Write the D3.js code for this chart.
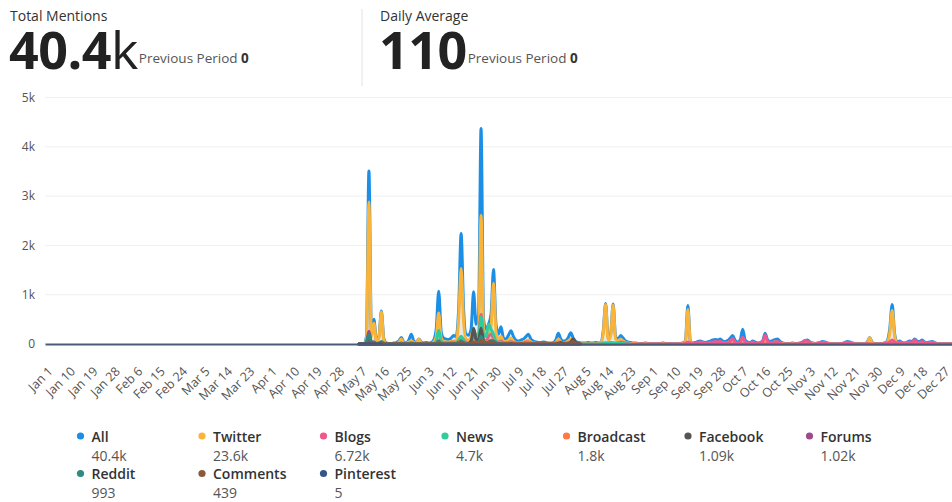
<!DOCTYPE html>
<html>
<head>
<meta charset="utf-8">
<script src="https://cdn.jsdelivr.net/npm/d3@7/dist/d3.min.js"></script>
<style>
	body { margin: 0; background: #fff; font-family: 'Open Sans', 'Noto Sans', sans-serif; }
	svg text { font-family: 'Open Sans', 'Noto Sans', sans-serif; }
</style>
</head>
<body>
<div id="chart"></div>
<script>
// values are daily counts, starting on windowStart
const windowStart = '2023-05-07';
const yearStart = '2023-01-01', yearEnd = '2023-12-31';

const allVals = [
	0, 0, 0, 150, 3510, 250, 500, 80, 150, 670,
	100, 20, 10, 10, 20, 30, 60, 130, 40, 20,
	80, 200, 60, 30, 100, 40, 20, 30, 20, 30,
	80, 300, 1070, 250, 120, 100, 90, 120, 170, 150,
	700, 2240, 700, 200, 180, 300, 1060, 400, 600, 4370,
	500, 300, 400, 600, 1510, 400, 200, 350, 120, 100,
	180, 270, 150, 80, 60, 80, 100, 150, 200, 100,
	60, 40, 30, 30, 40, 30, 20, 20, 30, 80,
	220, 100, 60, 70, 130, 230, 120, 50, 30, 20,
	20, 20, 30, 20, 20, 30, 20, 30, 250, 820,
	120, 200, 810, 150, 100, 170, 120, 60, 40, 30,
	20, 20, 10, 10, 10, 20, 10, 10, 10, 10,
	10, 10, 20, 10, 10, 10, 10, 10, 10, 10,
	20, 60, 780, 60, 20, 30, 50, 60, 40, 30,
	40, 60, 80, 90, 80, 100, 60, 50, 70, 120,
	170, 70, 40, 80, 300, 80, 40, 30, 60, 40,
	20, 30, 60, 220, 80, 50, 70, 90, 100, 50,
	20, 10, 10, 10, 20, 10, 10, 20, 40, 70,
	80, 40, 20, 10, 20, 30, 50, 40, 20, 10,
	10, 10, 10, 10, 10, 30, 50, 40, 20, 10,
	10, 10, 10, 10, 40, 130, 30, 10, 10, 10,
	10, 20, 60, 300, 800, 200, 40, 60, 30, 20,
	40, 60, 50, 100, 60, 50, 80, 40, 30, 40,
	50, 30, 10, 10, 10, 10, 10, 10, 10
];
const twitterVals = [
	0, 0, 0, 100, 2880, 150, 420, 50, 120, 650,
	60, 10, 0, 0, 10, 10, 30, 100, 20, 10,
	40, 60, 30, 10, 100, 20, 10, 10, 10, 10,
	40, 150, 630, 120, 50, 40, 40, 50, 60, 60,
	500, 1530, 450, 100, 80, 150, 300, 150, 250, 2610,
	300, 150, 200, 350, 1230, 250, 100, 150, 60, 40,
	80, 120, 60, 30, 20, 30, 40, 60, 80, 40,
	20, 10, 10, 10, 10, 10, 10, 10, 10, 30,
	100, 40, 20, 30, 60, 100, 40, 20, 10, 10,
	10, 10, 10, 10, 10, 10, 10, 10, 200, 800,
	80, 150, 790, 100, 60, 100, 60, 30, 20, 10,
	10, 10, 0, 0, 0, 10, 0, 0, 0, 0,
	0, 0, 10, 0, 0, 0, 0, 0, 0, 0,
	10, 40, 700, 40, 10, 10, 20, 20, 10, 10,
	10, 20, 30, 30, 30, 40, 20, 20, 30, 50,
	60, 30, 10, 30, 120, 30, 10, 10, 20, 10,
	10, 10, 20, 60, 30, 20, 30, 40, 40, 20,
	10, 0, 0, 0, 10, 0, 0, 10, 10, 20,
	20, 10, 10, 0, 10, 10, 20, 10, 10, 0,
	0, 0, 0, 0, 0, 10, 20, 10, 10, 0,
	0, 0, 0, 0, 30, 130, 20, 0, 0, 0,
	0, 10, 40, 220, 680, 150, 20, 20, 10, 10,
	20, 20, 20, 30, 20, 20, 30, 10, 10, 10,
	20, 10, 0, 0, 0, 0, 0, 0, 0
];
const blogsVals = [
	0, 0, 0, 20, 150, 40, 40, 10, 20, 40,
	20, 10, 0, 0, 10, 10, 10, 20, 10, 0,
	10, 30, 10, 10, 0, 10, 0, 10, 0, 10,
	10, 40, 80, 40, 20, 20, 20, 30, 40, 30,
	60, 150, 80, 40, 30, 60, 150, 100, 150, 600,
	100, 60, 150, 200, 120, 60, 40, 60, 30, 20,
	30, 50, 30, 20, 20, 20, 20, 40, 40, 20,
	20, 10, 0, 0, 10, 0, 0, 10, 10, 20,
	40, 30, 20, 20, 30, 40, 30, 10, 0, 0,
	0, 0, 0, 0, 0, 0, 0, 0, 20, 20,
	20, 30, 20, 20, 20, 40, 30, 20, 10, 0,
	0, 0, 0, 0, 0, 0, 0, 0, 0, 0,
	0, 0, 0, 0, 0, 0, 0, 0, 0, 0,
	0, 10, 40, 20, 0, 20, 30, 40, 30, 20,
	20, 30, 40, 50, 40, 50, 30, 30, 30, 60,
	110, 30, 20, 40, 130, 40, 20, 20, 40, 20,
	10, 20, 40, 180, 50, 30, 30, 40, 50, 20,
	0, 0, 0, 0, 0, 0, 0, 10, 30, 70,
	60, 30, 0, 0, 10, 20, 30, 30, 10, 0,
	0, 0, 0, 0, 10, 20, 30, 30, 10, 0,
	0, 0, 0, 0, 10, 0, 0, 0, 0, 0,
	0, 10, 20, 40, 80, 40, 20, 40, 20, 10,
	20, 40, 30, 80, 40, 30, 50, 30, 20, 30,
	30, 20, 0, 0, 0, 0, 0, 0, 0
];
const newsVals = [
	0, 0, 0, 30, 150, 30, 30, 10, 20, 30,
	10, 0, 0, 0, 0, 10, 10, 10, 10, 0,
	10, 30, 10, 0, 0, 0, 0, 0, 0, 0,
	10, 60, 280, 60, 30, 20, 20, 20, 30, 30,
	80, 150, 80, 30, 30, 60, 150, 200, 150, 550,
	200, 150, 400, 300, 200, 60, 30, 40, 20, 20,
	20, 40, 20, 10, 10, 10, 10, 20, 30, 10,
	10, 0, 0, 0, 0, 0, 0, 0, 0, 10,
	30, 20, 10, 10, 20, 30, 20, 10, 0, 0,
	0, 0, 0, 0, 0, 0, 0, 0, 10, 20,
	10, 10, 20, 10, 10, 10, 10, 0, 0, 0
];
const broadcastVals = [
	0, 0, 0, 10, 60, 20, 20, 10, 10, 20,
	10, 0, 0, 0, 0, 0, 10, 10, 0, 0,
	10, 20, 10, 0, 10, 0, 0, 0, 0, 0,
	10, 20, 60, 20, 10, 10, 10, 10, 20, 20,
	40, 80, 40, 20, 20, 30, 60, 60, 60, 150,
	60, 40, 60, 80, 80, 30, 20, 20, 10, 10,
	10, 20, 10, 10, 10, 10, 10, 10, 20, 10,
	10, 0, 0, 0, 0, 0, 0, 0, 10, 10,
	20, 10, 10, 10, 10, 20, 10, 0, 0, 0
];
const facebookVals = [
	0, 0, 0, 10, 80, 10, 10, 0, 10, 20,
	0, 0, 0, 0, 0, 0, 0, 0, 0, 0,
	0, 10, 0, 0, 0, 0, 0, 0, 0, 0,
	0, 10, 30, 10, 0, 0, 0, 10, 10, 10,
	20, 60, 20, 10, 10, 60, 320, 100, 80, 320,
	60, 20, 40, 60, 60, 20, 10, 10, 0, 0,
	0, 10, 0, 0, 0, 0, 0, 0, 0, 0,
	0, 0, 0, 0, 0, 0, 0, 0, 0, 0,
	10, 30, 10, 0, 10, 40, 100, 30, 10, 0
];
const forumsVals = [
	0, 0, 0, 30, 260, 40, 20, 10, 10, 30,
	10, 0, 0, 0, 0, 0, 0, 10, 0, 0,
	0, 10, 0, 0, 0, 0, 0, 0, 0, 0,
	0, 10, 40, 10, 0, 0, 0, 0, 10, 10,
	20, 50, 20, 0, 0, 10, 30, 20, 30, 100,
	20, 10, 20, 30, 40, 10, 0, 10, 0, 0
];
const redditVals = [
	0, 0, 0, 40, 200, 30, 40, 10, 10, 50,
	10, 0, 0, 0, 0, 0, 0, 10, 0, 0,
	0, 10, 0, 0, 0, 0, 0, 0, 0, 0,
	0, 10, 60, 10, 0, 0, 0, 0, 10, 10,
	20, 60, 20, 10, 0, 10, 40, 30, 30, 150,
	30, 10, 30, 40, 50, 10, 0, 10, 0, 0
];
const commentsVals = [
	0, 0, 0, 0, 40, 10, 10, 0, 0, 10,
	0, 0, 0, 0, 0, 0, 0, 0, 0, 0,
	0, 0, 0, 0, 0, 0, 0, 0, 0, 0,
	0, 0, 10, 0, 0, 0, 0, 0, 0, 0,
	0, 20, 10, 0, 0, 10, 30, 20, 10, 80,
	10, 0, 10, 20, 30, 0, 0, 0, 0, 0,
	0, 0, 0, 0, 0, 0, 0, 0, 0, 0,
	0, 0, 0, 0, 0, 0, 0, 0, 0, 0,
	0, 10, 0, 0, 0, 20, 50, 10, 0, 0
];
const pinterestVals = [0, 0, 0, 0, 5, 0, 0, 0, 0, 0];

const seriesNames = ['All', 'Twitter', 'Blogs', 'News', 'Broadcast', 'Facebook', 'Forums', 'Reddit', 'Comments', 'Pinterest'];
const seriesTotals = ['40.4k', '23.6k', '6.72k', '4.7k', '1.8k', '1.09k', '1.02k', '993', '439', '5'];
const seriesColors = ['#1b8fe6', '#fbb43a', '#f0588c', '#2fcc9c', '#ff7a45', '#555555', '#9c4c8c', '#2e8b80', '#8c5a3a', '#34558a'];
const seriesValues = [allVals, twitterVals, blogsVals, newsVals, broadcastVals, facebookVals, forumsVals, redditVals, commentsVals, pinterestVals];

const yTicks = [0, 1000, 2000, 3000, 4000, 5000];
const yTickLabels = ['0', '1k', '2k', '3k', '4k', '5k'];
const xTickLabels = ['Jan 1', 'Jan 10', 'Jan 19', 'Jan 28', 'Feb 6', 'Feb 15', 'Feb 24', 'Mar 5', 'Mar 14', 'Mar 23',
	'Apr 1', 'Apr 10', 'Apr 19', 'Apr 28', 'May 7', 'May 16', 'May 25', 'Jun 3', 'Jun 12', 'Jun 21', 'Jun 30',
	'Jul 9', 'Jul 18', 'Jul 27', 'Aug 5', 'Aug 14', 'Aug 23', 'Sep 1', 'Sep 10', 'Sep 19', 'Sep 28', 'Oct 7',
	'Oct 16', 'Oct 25', 'Nov 3', 'Nov 12', 'Nov 21', 'Nov 30', 'Dec 9', 'Dec 18', 'Dec 27'];

const kpis = [
	{ title: 'Total Mentions', value: '40.4', unit: 'k', prev: '0' },
	{ title: 'Daily Average', value: '110', unit: '', prev: '0' }
];

let width = 952,
	height = 502,
	plotLeft = 45,
	plotRight = 952,
	plotTop = 97.5,
	plotBottom = 344,
	parseDay = d3.timeParse('%Y-%m-%d'),
	parseTick = d3.timeParse('%b %d %Y'),
	start = parseDay(windowStart),
	svg = null,
	header = null,
	g = null,
	legend = null;

let xScale = d3.scaleTime()
	.domain([parseDay(yearStart), parseDay(yearEnd)])
	.range([plotLeft, plotRight]);
let yScale = d3.scaleLinear()
	.domain([0, 5000])
	.range([plotBottom, plotTop]);

svg = d3.select('#chart').append('svg')
	.attr('width', width)
	.attr('height', height);

// header KPIs
header = svg.append('g');
kpis.forEach(function (k, i) {
	let x0 = i === 0 ? 9 : 379;
	header.append('text')
		.attr('x', x0 + 1).attr('y', 21)
		.attr('font-size', 14).attr('fill', '#333')
		.text(k.title);
	let big = header.append('text')
		.attr('x', x0).attr('y', 69)
		.attr('font-size', 52).attr('fill', '#222')
		.attr('letter-spacing', '-0.5');
	big.append('tspan').attr('font-weight', 700).text(k.value);
	big.append('tspan').attr('font-weight', 400).text(k.unit);
	let w = big.node().getComputedTextLength();
	let small = header.append('text')
		.attr('x', x0 + w + 1).attr('y', 63)
		.attr('font-size', 13.5).attr('fill', '#555');
	small.append('tspan').text('Previous Period ');
	small.append('tspan').attr('font-weight', 700).attr('fill', '#333').text(k.prev);
});
header.append('line')
	.attr('x1', 362).attr('x2', 362)
	.attr('y1', 9).attr('y2', 86)
	.attr('stroke', '#e2e2e2');

g = svg.append('g');

// grid + y labels
g.append('g')
	.selectAll('line')
	.data(yTicks.slice(1))
	.enter().append('line')
	.attr('x1', plotLeft).attr('x2', plotRight)
	.attr('y1', d => yScale(d)).attr('y2', d => yScale(d))
	.attr('stroke', '#f0f0f0');

g.append('g')
	.attr('class', 'axisY')
	.attr('transform', 'translate(' + (plotLeft - 10) + ',0)')
	.call(d3.axisLeft(yScale).tickValues(yTicks).tickFormat((d, i) => yTickLabels[i]).tickSize(0).tickPadding(0))
	.call(ax => ax.select('.domain').remove())
	.selectAll('text')
	.attr('font-size', 12)
	.attr('fill', '#555');

// areas
let area = d3.area()
	.curve(d3.curveMonotoneX)
	.x(d => xScale(d.date))
	.y0(yScale(0))
	.y1(d => yScale(d.value));

seriesValues.forEach(function (vals, i) {
	let pts = vals.map((v, j) => ({ date: d3.timeDay.offset(start, j), value: v }));
	g.append('path')
		.datum(pts)
		.attr('fill', seriesColors[i])
		.attr('fill-opacity', 0.12)
		.attr('stroke', seriesColors[i])
		.attr('stroke-width', 3)
		.attr('stroke-linejoin', 'round')
		.attr('d', area);
});

// x axis
let xAxis = g.append('g')
	.attr('class', 'axisX')
	.attr('transform', 'translate(0,' + plotBottom + ')')
	.call(d3.axisBottom(xScale)
		.tickValues(xTickLabels.map(t => parseTick(t + ' 2023')))
		.tickFormat(d3.timeFormat('%b %-d'))
		.tickSize(0));
xAxis.select('.domain')
	.attr('stroke', '#4c5a76')
	.attr('stroke-width', 2);
xAxis.selectAll('text')
	.attr('x', 0).attr('y', 0).attr('dy', '0.35em')
	.attr('transform', 'translate(5,25) rotate(-45)')
	.style('text-anchor', 'end')
	.attr('font-size', 12.5)
	.attr('fill', '#555');

// legend
legend = svg.append('g');
let item = legend.selectAll('g')
	.data(seriesNames)
	.enter().append('g')
	.attr('transform', (d, i) => 'translate(' + (80.5 + (i % 7) * 121.5) + ',' + (436 + Math.floor(i / 7) * 37.5) + ')');
item.append('circle')
	.attr('r', 3.6)
	.attr('fill', (d, i) => seriesColors[i]);
item.append('text')
	.attr('x', 11).attr('y', 5.5)
	.attr('font-size', 14).attr('font-weight', 600).attr('fill', '#333')
	.text(d => d);
item.append('text')
	.attr('x', 11).attr('y', 24.5)
	.attr('font-size', 14).attr('fill', '#555')
	.text((d, i) => seriesTotals[i]);
</script>
</body>
</html>
